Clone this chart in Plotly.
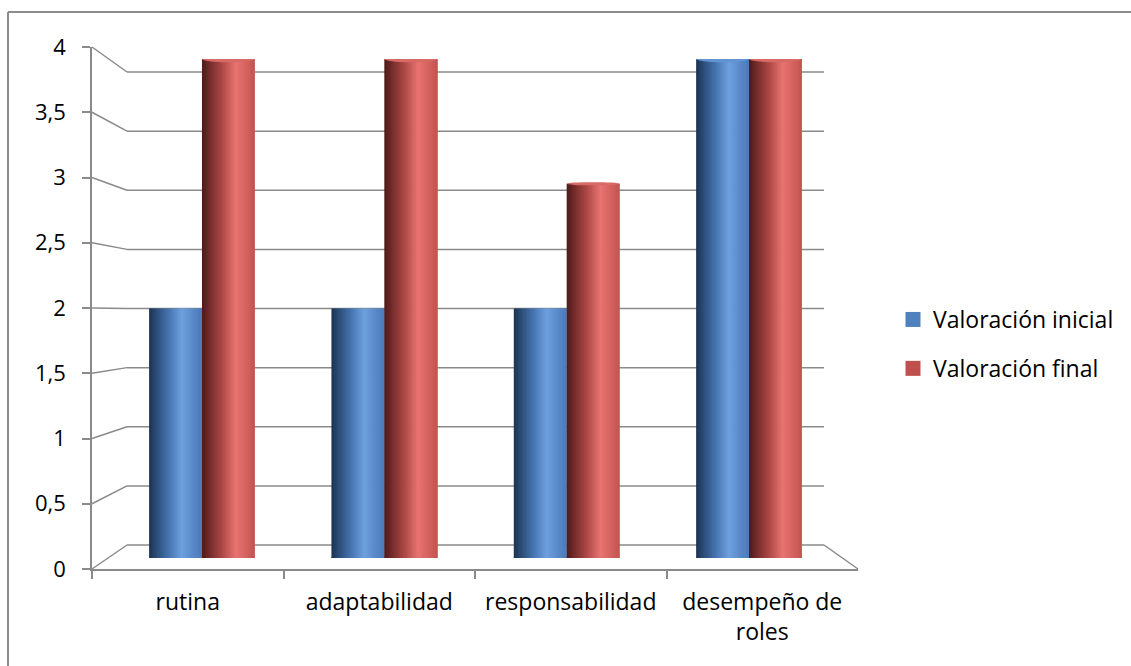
import math
import plotly.graph_objects as go

# ---- data ----
categorias = ["rutina", "adaptabilidad", "responsabilidad", "desempeño de<br>roles"]
valoracion_inicial = [2, 2, 2, 4]
valoracion_final = [4, 4, 3, 4]
series = ["Valoración inicial", "Valoración final"]
ticks_y = [0, 0.5, 1, 1.5, 2, 2.5, 3, 3.5, 4]

# ---- geometry (pixels) ----
W, H = 1131, 666
FONT = "Open Sans"
FS = 23
FS_Y = 22
GRIS = "#8a8a8a"

def px(p):
    return p / W

def py(p):
    return 1 - p / H

# front wall of the 3D box: value 0 -> 569 px, 4 -> 47 px
def y_frente(v):
    return 569 - v * (569 - 47) / 4

# back wall of the 3D box: value 0 -> 545 px, 4 -> 72 px
def y_fondo(v):
    return 545 - v * (545 - 72) / 4

X_FRENTE_IZQ, X_FRENTE_DER = 92, 858
X_FONDO_IZQ, X_FONDO_DER = 127, 824

# cylinder shading: dark left edge, highlight near 60 %, mid tone at the right edge
TONOS = {
    "Valoración inicial": [(0.0, (28, 50, 80)), (0.15, (45, 78, 122)), (0.38, (72, 118, 178)),
                           (0.62, (110, 160, 222)), (0.82, (90, 138, 202)), (1.0, (76, 122, 186))],
    "Valoración final": [(0.0, (76, 26, 26)), (0.15, (118, 44, 44)), (0.38, (172, 72, 70)),
                         (0.64, (232, 116, 112)), (0.84, (212, 98, 95)), (1.0, (194, 84, 81))],
}
COLOR_LEYENDA = {"Valoración inicial": "#4F81BD", "Valoración final": "#C0504D"}
COLOR_TAPA = {"Valoración inicial": "#6393D2", "Valoración final": "#D86A66"}


def tono(paradas, t):
    for (t0, c0), (t1, c1) in zip(paradas, paradas[1:]):
        if t <= t1:
            f = (t - t0) / (t1 - t0)
            r, g, b = (round(a + (b_ - a) * f) for a, b_ in zip(c0, c1))
            return f"rgb({r},{g},{b})"
    r, g, b = paradas[-1][1]
    return f"rgb({r},{g},{b})"


fig = go.Figure()

ANCHO = 0.29          # cylinder width in category units
N = 40                # vertical slices per cylinder
paso = ANCHO / N

for serie, valores, desplaz in ((series[0], valoracion_inicial, -ANCHO),
                                (series[1], valoracion_final, 0.0)):
    for k in range(N):
        t = (k + 0.5) / N
        ancho_k = paso * 1.6 if k < N - 1 else paso
        fig.add_trace(go.Bar(
            x=categorias, y=valores,
            width=ancho_k, offset=desplaz + k * paso,
            marker=dict(color=tono(TONOS[serie], t), line=dict(width=0)),
            showlegend=False, hoverinfo="skip",
            xaxis="x", yaxis="y",
        ))
    # legend entry
    fig.add_trace(go.Scatter(
        x=[None], y=[None], name=serie, mode="markers",
        marker=dict(color=COLOR_LEYENDA[serie], symbol="square", size=15),
        legendgroup=serie, xaxis="x", yaxis="y",
    ))

# helper trace so the front axes render the categories
fig.add_trace(go.Scatter(
    x=categorias, y=valoracion_inicial, mode="markers",
    marker=dict(opacity=0, size=1), showlegend=False, hoverinfo="skip",
    xaxis="x2", yaxis="y2",
))

shapes = []
# elliptical caps of each cylinder: top face above eye level, shaded bottom rim
RY_BASE = 3.0
M = 14
for serie, valores, desplaz in ((series[0], valoracion_inicial, -ANCHO),
                                (series[1], valoracion_final, 0.0)):
    for i, v in enumerate(valores):
        x0 = i + desplaz
        x1 = x0 + ANCHO
        ry_top = 1.6 * abs(v - 2)
        if ry_top > 0:
            shapes.append(dict(type="circle", xref="x", yref="y", layer="above",
                               x0=x0, x1=x1, ysizemode="pixel", yanchor=v,
                               y0=-ry_top, y1=ry_top,
                               fillcolor=COLOR_TAPA[serie], line=dict(width=0)))
        # bottom rim: lower half of the base ellipse, split into shaded segments
        for j in range(M):
            ua, ub = -1 + 2 * j / M, -1 + 2 * (j + 1) / M
            ea = RY_BASE * math.sqrt(max(0.0, 1 - ua * ua))
            eb = RY_BASE * math.sqrt(max(0.0, 1 - ub * ub))
            xa = x0 + (ua + 1) / 2 * ANCHO
            xb = x0 + (ub + 1) / 2 * ANCHO
            xb_ext = min(x1, xb + 0.15 * ANCHO / M)
            ruta = (f"M{xa},1 L{xa},{-ea:.2f} L{xb},{-eb:.2f} "
                    f"L{xb_ext},{-eb:.2f} L{xb_ext},1 Z")
            shapes.append(dict(type="path", xref="x", yref="y", layer="above",
                               ysizemode="pixel", yanchor=0, path=ruta,
                               fillcolor=tono(TONOS[serie], (j + 0.5) / M),
                               line=dict(width=0)))

def linea(xa, ya, xb, yb, color=GRIS, w=1.5):
    shapes.append(dict(type="line", xref="paper", yref="paper", layer="below",
                       x0=px(xa), y0=py(ya), x1=px(xb), y1=py(yb),
                       line=dict(color=color, width=w)))

# back wall gridlines and the side edges joining them to the front axis
for v in ticks_y:
    linea(X_FONDO_IZQ, y_fondo(v), X_FONDO_DER, y_fondo(v))
    linea(X_FRENTE_IZQ, y_frente(v), X_FONDO_IZQ, y_fondo(v))
# right edge of the floor
linea(X_FONDO_DER, y_fondo(0), X_FRENTE_DER, y_frente(0))
# chart area border (top and left)
linea(8, 12, W, 12, color="#8c8c8c", w=2)
linea(8, 12, 8, H, color="#8c8c8c", w=2)

fig.update_layout(
    width=W, height=H,
    margin=dict(l=0, r=0, t=0, b=0, autoexpand=False),
    paper_bgcolor="white", plot_bgcolor="rgba(0,0,0,0)",
    barmode="overlay",
    separators=",.",
    font=dict(family=FONT, size=FS, color="black"),
    shapes=shapes,
    showlegend=True,
    legend=dict(x=px(893), y=py(298), xanchor="left", yanchor="top",
                font=dict(family=FONT, size=FS, color="black"),
                tracegroupgap=16, bgcolor="rgba(0,0,0,0)"),
    # cylinders sit on the middle plane of the box
    xaxis=dict(domain=[px(110.8), px(840.2)], range=[-0.5, 3.5], type="category",
               categoryarray=categorias, visible=False, fixedrange=True),
    yaxis=dict(domain=[py(558), py(59)], range=[0, 4], visible=False, fixedrange=True),
    # front axes of the box
    xaxis2=dict(domain=[px(X_FRENTE_IZQ), px(X_FRENTE_DER)], range=[-0.5, 3.5],
                type="category", categoryarray=categorias, anchor="y2",
                showline=True, linecolor=GRIS, linewidth=1.5,
                ticks="outside", ticklen=8, tickcolor=GRIS, tickwidth=1.5,
                tickson="boundaries", showgrid=False, ticklabelstandoff=12,
                automargin=False,
                tickfont=dict(family=FONT, size=FS, color="black"), fixedrange=True),
    yaxis2=dict(domain=[py(y_frente(0)), py(y_frente(4))], range=[0, 4], anchor="x2",
                tickvals=ticks_y, showline=True, linecolor=GRIS, linewidth=1.5,
                ticks="outside", ticklen=8, tickcolor=GRIS, tickwidth=1.5,
                showgrid=False, zeroline=False, ticklabelstandoff=12,
                automargin=False,
                tickfont=dict(family=FONT, size=FS_Y, color="black"), fixedrange=True),
)

fig.write_html("out.html")
